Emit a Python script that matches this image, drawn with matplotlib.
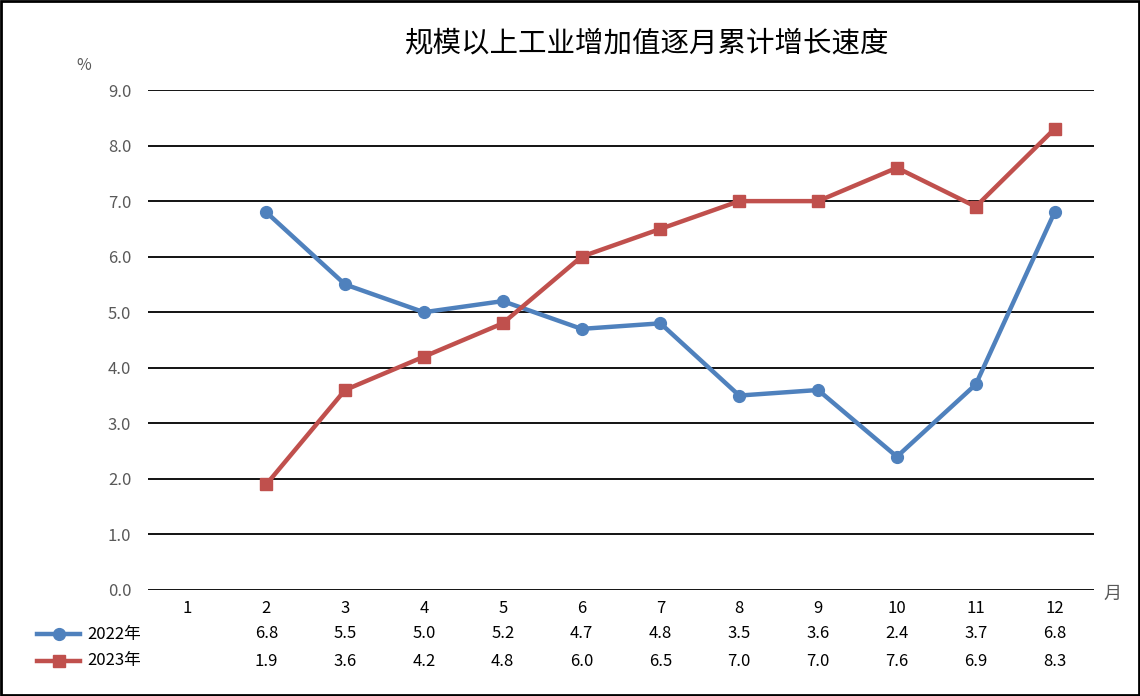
import matplotlib
matplotlib.use('Agg')
import matplotlib.pyplot as plt
from matplotlib.lines import Line2D
from matplotlib.patches import Rectangle

plt.rcParams['font.family'] = ['Noto Sans CJK SC', 'DejaVu Sans']

# data
months = [1, 2, 3, 4, 5, 6, 7, 8, 9, 10, 11, 12]
m_2022 = [2, 3, 4, 5, 6, 7, 8, 9, 10, 11, 12]
v_2022 = [6.8, 5.5, 5.0, 5.2, 4.7, 4.8, 3.5, 3.6, 2.4, 3.7, 6.8]
m_2023 = [2, 3, 4, 5, 6, 7, 8, 9, 10, 11, 12]
v_2023 = [1.9, 3.6, 4.2, 4.8, 6.0, 6.5, 7.0, 7.0, 7.6, 6.9, 8.3]
names = ['2022年', '2023年']
yticks = [0, 1, 2, 3, 4, 5, 6, 7, 8, 9]

blue = '#4F81BD'
red = '#C0504D'
tick_col = '#595959'

fig = plt.figure(figsize=(11.4, 6.96), dpi=100)
ax = fig.add_axes([148 / 1140, 1 - 590 / 696, (1094 - 148) / 1140, 500 / 696])

for y in yticks:
    ax.axhline(y, color='black', lw=1.3, zorder=1)

ax.plot(m_2022, v_2022, color=blue, lw=3.2, marker='o', ms=8.5, zorder=3)
ax.plot(m_2023, v_2023, color=red, lw=3.2, marker='s', ms=8, zorder=3)

ax.set_xlim(0.5, 12.5)
ax.set_ylim(0, 9)
ax.set_yticks(yticks)
ax.set_yticklabels(['%.1f' % y for y in yticks], color=tick_col, fontsize=12)
ax.set_xticks(months)
ax.set_xticklabels([str(m) for m in months], fontsize=12)
ax.tick_params(axis='both', length=0, pad=7)
ax.tick_params(axis='y', pad=12)
for s in ax.spines.values():
    s.set_visible(False)

fig.text(647 / 1140, 1 - 43 / 696, '规模以上工业增加值逐月累计增长速度',
         ha='center', va='center', fontsize=20.5)
fig.text(84 / 1140, 1 - 66 / 696, '%', ha='center', va='center', fontsize=11.5, color=tick_col)
fig.text(1112 / 1140, 1 - 594 / 696, '月', ha='center', va='center', fontsize=13, color=tick_col)

# data table below the axis
rows = [(v_2022, m_2022, blue, 'o', 8.5, 634), (v_2023, m_2023, red, 's', 8, 661)]
for (vals, ms_, col, mk, msz, ypix), name in zip(rows, names):
    yf = 1 - ypix / 696
    fig.add_artist(Line2D([37 / 1140, 80 / 1140], [yf, yf], color=col, lw=3.2,
                          transform=fig.transFigure))
    fig.add_artist(Line2D([58.5 / 1140], [yf], color=col, marker=mk, ms=msz,
                          transform=fig.transFigure))
    fig.text(87 / 1140, yf, name, ha='left', va='center', fontsize=12)
    for m, v in zip(ms_, vals):
        xf = ax.transData.transform((m, 0))[0] / fig.bbox.width
        fig.text(xf, yf, '%.1f' % v, ha='center', va='center', fontsize=12)

fig.add_artist(Rectangle((0.001, 0.001), 0.998, 0.998, fill=False, ec='black', lw=2,
                         transform=fig.transFigure))

fig.savefig('out.png', dpi=100)
